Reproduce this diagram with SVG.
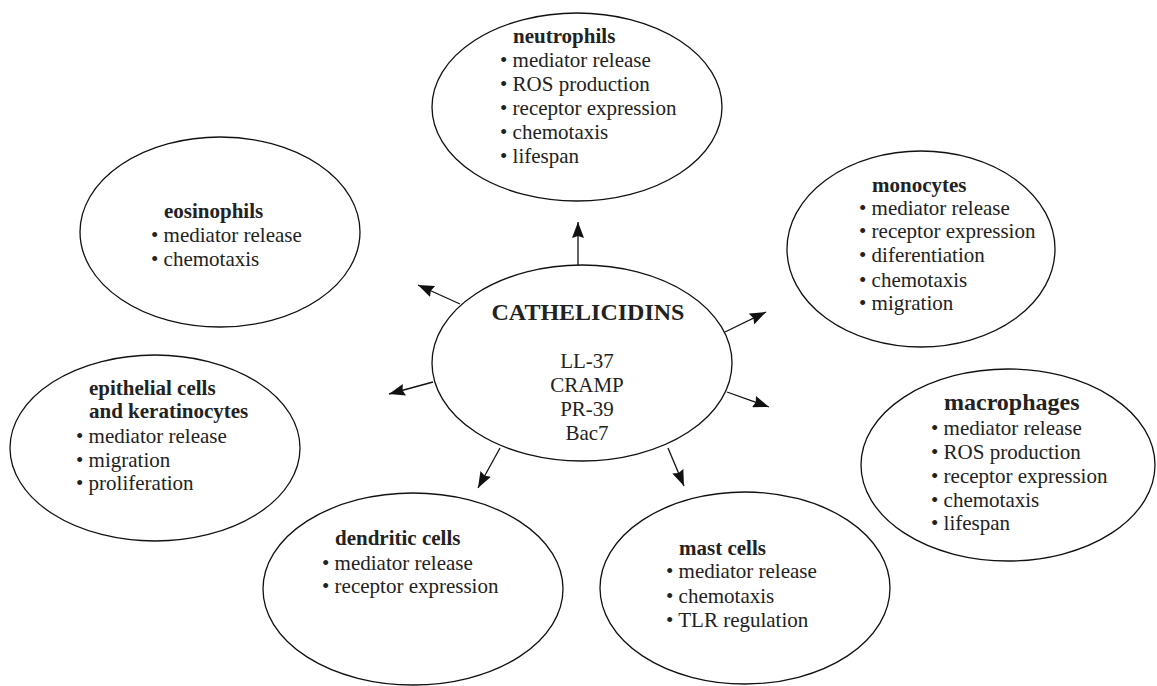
<svg xmlns="http://www.w3.org/2000/svg" width="1157" height="686" viewBox="0 0 1157 686">
<defs>
<marker id="ah" viewBox="0 0 16 12" refX="16" refY="6" markerWidth="16" markerHeight="12" markerUnits="userSpaceOnUse" orient="auto">
<path d="M0,0 L16,6 L0,12 L2,6 Z" fill="#111"/>
</marker>
<style>
.e{fill:#fff;stroke:#111;stroke-width:1.3}
text{font-family:"Liberation Serif","Times New Roman",serif;fill:#222;font-size:21px}
.t{font-weight:bold}
.big{font-size:24px}
.c line{stroke:#111;stroke-width:1.3;marker-end:url(#ah)}
</style>
</defs>
<rect width="1157" height="686" fill="#fff"/>
<g class="c" id="connectors">
<line x1="578" y1="266" x2="578" y2="222"/>
<line x1="460" y1="304" x2="418" y2="285"/>
<line x1="725" y1="332" x2="766" y2="312"/>
<line x1="433" y1="382" x2="389" y2="394"/>
<line x1="727" y1="392" x2="769" y2="407"/>
<line x1="500" y1="448" x2="478" y2="488"/>
<line x1="668" y1="448" x2="684" y2="486"/>
</g>
<g id="cathelicidins">
<ellipse class="e" cx="582" cy="363" rx="150" ry="98"/>
<text class="t big" x="588" y="320" text-anchor="middle">CATHELICIDINS</text>
<text x="587" y="368" text-anchor="middle">LL-37</text>
<text x="587" y="392" text-anchor="middle">CRAMP</text>
<text x="587" y="416" text-anchor="middle">PR-39</text>
<text x="587" y="440" text-anchor="middle">Bac7</text>
</g>
<g id="neutrophils">
<ellipse class="e" cx="577" cy="107" rx="145" ry="94"/>
<text class="t" x="513" y="43">neutrophils</text>
<text x="500" y="67">• mediator release</text>
<text x="500" y="91">• ROS production</text>
<text x="500" y="115">• receptor expression</text>
<text x="500" y="139">• chemotaxis</text>
<text x="500" y="163">• lifespan</text>
</g>
<g id="eosinophils">
<ellipse class="e" cx="220" cy="232" rx="140" ry="95"/>
<text class="t" x="164" y="218">eosinophils</text>
<text x="151" y="242">• mediator release</text>
<text x="151" y="266">• chemotaxis</text>
</g>
<g id="monocytes">
<ellipse class="e" cx="921" cy="249" rx="134" ry="98"/>
<text class="t" x="872" y="192">monocytes</text>
<text x="859" y="215">• mediator release</text>
<text x="859" y="238">• receptor expression</text>
<text x="859" y="262">• diferentiation</text>
<text x="859" y="287">• chemotaxis</text>
<text x="859" y="310">• migration</text>
</g>
<g id="epithelial">
<ellipse class="e" cx="155" cy="448" rx="145" ry="93"/>
<text class="t" x="89" y="395">epithelial cells</text>
<text class="t" x="89" y="418">and keratinocytes</text>
<text x="76" y="443">• mediator release</text>
<text x="76" y="467">• migration</text>
<text x="76" y="490">• proliferation</text>
</g>
<g id="macrophages">
<ellipse class="e" cx="1008" cy="465" rx="147" ry="96"/>
<text class="t big" x="944" y="410">macrophages</text>
<text x="931" y="435">• mediator release</text>
<text x="931" y="459">• ROS production</text>
<text x="931" y="483">• receptor expression</text>
<text x="931" y="507">• chemotaxis</text>
<text x="931" y="530">• lifespan</text>
</g>
<g id="dendritic">
<ellipse class="e" cx="413" cy="589" rx="150" ry="96"/>
<text class="t" x="335" y="545">dendritic cells</text>
<text x="322" y="570">• mediator release</text>
<text x="322" y="593">• receptor expression</text>
</g>
<g id="mast">
<ellipse class="e" cx="745" cy="588" rx="145" ry="96"/>
<text class="t" x="679" y="555">mast cells</text>
<text x="666" y="578">• mediator release</text>
<text x="666" y="603">• chemotaxis</text>
<text x="666" y="627">• TLR regulation</text>
</g>
</svg>
